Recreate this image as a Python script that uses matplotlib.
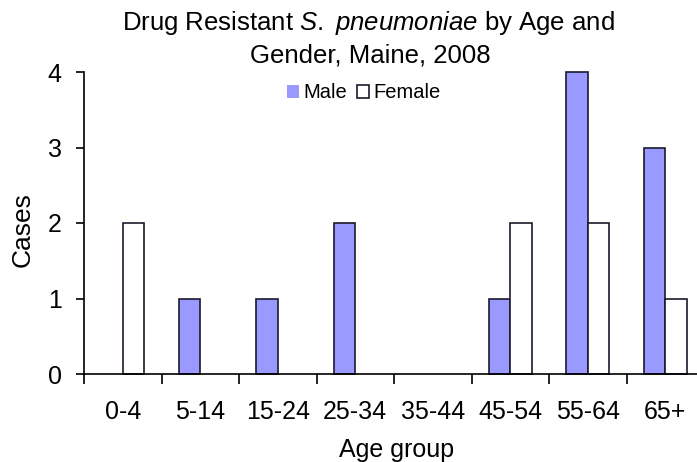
import numpy as np
import matplotlib
matplotlib.use("Agg")
import matplotlib.pyplot as plt

plt.rcParams['font.family'] = ['Liberation Sans', 'DejaVu Sans']
plt.rcParams['mathtext.fontset'] = 'custom'
plt.rcParams['mathtext.rm'] = 'Liberation Sans'
plt.rcParams['mathtext.it'] = 'Liberation Sans:italic'

age_groups = ['0-4', '5-14', '15-24', '25-34', '35-44', '45-54', '55-64', '65+']
male = [0, 1, 1, 2, 0, 1, 4, 3]
female = [2, 0, 0, 0, 0, 2, 2, 1]

male_color = '#9999ff'
edge_color = '#1a1a2e'
bar_w = 0.28

fig = plt.figure(figsize=(6.97, 4.62), dpi=100)
# axes runs a little past the right edge, like the original crop
ax = fig.add_axes([84 / 697, 88 / 462, 620 / 697, 302 / 462])

x = np.arange(len(age_groups))
# no outline for empty bars
lw_m = [1.2 if v > 0 else 0 for v in male]
lw_f = [1.2 if v > 0 else 0 for v in female]
ax.bar(x - bar_w / 2, male, bar_w, color=male_color, edgecolor=edge_color,
       linewidth=lw_m, label='Male', clip_on=False)
ax.bar(x + bar_w / 2, female, bar_w, color='white', edgecolor=edge_color,
       linewidth=lw_f, label='Female', clip_on=False)

ax.set_xlim(-0.5, len(age_groups) - 0.5)
ax.set_ylim(0, 4)
ax.set_yticks([0, 1, 2, 3, 4])
ax.set_xticks(x)
ax.set_xticklabels(age_groups)
ax.set_xticks(np.arange(len(age_groups) + 1) - 0.5, minor=True)
ax.tick_params(axis='x', which='major', length=0, pad=19, labelsize=18)
ax.tick_params(axis='x', which='minor', length=7, width=1.2, direction='out')
ax.tick_params(axis='y', length=6, width=1.2, labelsize=18, pad=10)

for side in ['top', 'right']:
    ax.spines[side].set_visible(False)
ax.spines['left'].set_linewidth(1.2)
ax.spines['bottom'].set_linewidth(1.2)

fig.text(23 / 697, 1 - 230 / 462, 'Cases', rotation=90, ha='center', va='center', fontsize=19)
fig.text(397 / 697, 1 - 450 / 462, 'Age group', ha='center', va='center', fontsize=18)

fig.text(368 / 697, 1 - 23 / 462,
         r'Drug Resistant $\mathit{S.\ pneumoniae}$ by Age and',
         ha='center', va='center', fontsize=18.5)
fig.text(370 / 697, 1 - 55 / 462, 'Gender, Maine, 2008',
         ha='center', va='center', fontsize=18.5)

fig.legend(loc='center', bbox_to_anchor=(364 / 697, 1 - 93 / 462), ncol=2,
           frameon=False, fontsize=14.5, handlelength=0.6, handleheight=0.6,
           handletextpad=0.2, columnspacing=0.5, borderpad=0)

fig.savefig('out.png', dpi=100)
